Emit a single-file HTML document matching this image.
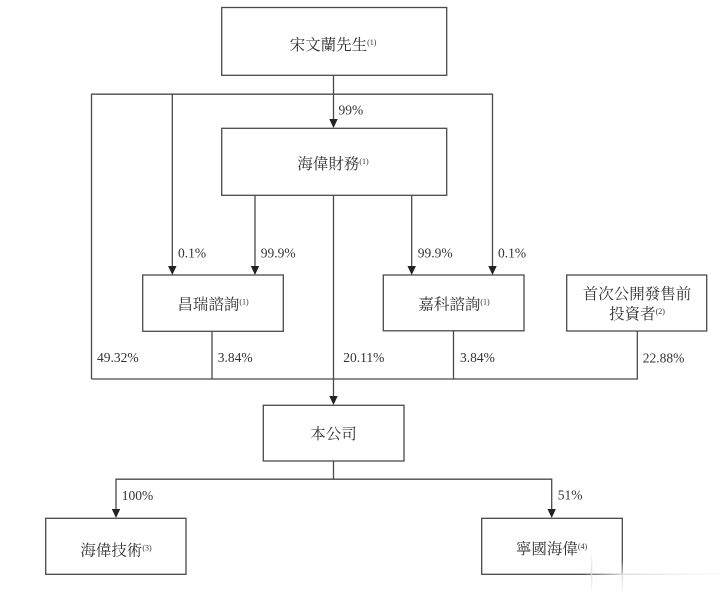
<!DOCTYPE html>
<html>
<head>
<meta charset="utf-8">
<style>
  html,body{margin:0;padding:0;background:#fff;}
  svg{display:block;}
  .cn{font-family:"Liberation Serif","Noto Serif CJK SC","Noto Serif CJK SC",serif;font-size:15.5px;fill:#333;}
  .pc{font-family:"Liberation Serif",serif;font-size:13.5px;fill:#333;}
  .sup{font-size:8px;}
</style>
</head>
<body>
<svg width="720" height="595" viewBox="0 0 720 595" xmlns="http://www.w3.org/2000/svg">
  <defs>
    <linearGradient id="fadeH" x1="0" x2="1" y1="0" y2="0">
      <stop offset="0" stop-color="#ddd" stop-opacity="0"/>
      <stop offset="0.3" stop-color="#ddd" stop-opacity="1"/>
      <stop offset="1" stop-color="#eee" stop-opacity="0.3"/>
    </linearGradient>
    <linearGradient id="fadeV" x1="0" x2="0" y1="0" y2="1">
      <stop offset="0" stop-color="#ddd" stop-opacity="0"/>
      <stop offset="0.5" stop-color="#ddd" stop-opacity="1"/>
      <stop offset="1" stop-color="#ddd" stop-opacity="0"/>
    </linearGradient>
  </defs>

  <g stroke="#4a4a4a" stroke-width="1.3" fill="none">
    <!-- boxes -->
    <rect x="221.7" y="7.5" width="225" height="67.8"/>
    <rect x="221.7" y="128.3" width="225" height="67"/>
    <rect x="142.7" y="275" width="140.6" height="56.3"/>
    <rect x="383.3" y="275" width="140.7" height="55.8"/>
    <rect x="566.7" y="275" width="140" height="56"/>
    <rect x="263.3" y="405.3" width="140.7" height="55.7"/>
    <rect x="45.7" y="518.3" width="140.3" height="56"/>
    <rect x="481.7" y="518.3" width="140.6" height="56"/>

    <!-- top connectors -->
    <line x1="333.5" y1="75.3" x2="333.5" y2="121"/>
    <polyline points="91.5,379 91.5,94.2 492.5,94.2 492.5,267"/>
    <line x1="172.3" y1="94.2" x2="172.3" y2="267"/>

    <!-- from 海偉財務 -->
    <line x1="255" y1="195.3" x2="255" y2="267"/>
    <line x1="411.7" y1="195.3" x2="411.7" y2="267"/>
    <line x1="333.5" y1="195.3" x2="333.5" y2="397"/>

    <!-- bottom collector -->
    <line x1="91.5" y1="379" x2="637.3" y2="379"/>
    <line x1="212" y1="331.3" x2="212" y2="379"/>
    <line x1="453.5" y1="330.8" x2="453.5" y2="379"/>
    <line x1="637.3" y1="331" x2="637.3" y2="379.6"/>

    <!-- from 本公司 -->
    <line x1="333.5" y1="461" x2="333.5" y2="479.2"/>
    <polyline points="116,510 116,479.2 551.7,479.2 551.7,510"/>
  </g>

  <!-- arrowheads -->
  <g fill="#222">
    <polygon points="329.3,119 337.7,119 333.5,128"/>
    <polygon points="168.1,266 176.5,266 172.3,275"/>
    <polygon points="250.8,266 259.2,266 255,275"/>
    <polygon points="407.5,266 415.9,266 411.7,275"/>
    <polygon points="488.3,266 496.7,266 492.5,275"/>
    <polygon points="329.3,396 337.7,396 333.5,405"/>
    <polygon points="111.8,509 120.2,509 116,518"/>
    <polygon points="547.5,509 555.9,509 551.7,518"/>
  </g>

  <!-- box labels -->
  <text class="cn" x="333" y="50" text-anchor="middle">宋文蘭先生<tspan class="sup" dy="-5">(1)</tspan></text>
  <text class="cn" x="333" y="169" text-anchor="middle">海偉財務<tspan class="sup" dy="-5">(1)</tspan></text>
  <text class="cn" x="213" y="309.5" text-anchor="middle">昌瑞諮詢<tspan class="sup" dy="-5">(1)</tspan></text>
  <text class="cn" x="454" y="309.5" text-anchor="middle">嘉科諮詢<tspan class="sup" dy="-5">(1)</tspan></text>
  <text class="cn" x="637" y="299" text-anchor="middle">首次公開發售前</text>
  <text class="cn" x="637" y="319" text-anchor="middle">投資者<tspan class="sup" dy="-5">(2)</tspan></text>
  <text class="cn" x="333.5" y="439" text-anchor="middle">本公司</text>
  <text class="cn" x="116" y="555.5" text-anchor="middle">海偉技術<tspan class="sup" dy="-5">(3)</tspan></text>
  <text class="cn" x="551.5" y="554" text-anchor="middle">寧國海偉<tspan class="sup" dy="-5">(4)</tspan></text>

  <!-- percentages -->
  <text class="pc" x="338.5" y="114.5">99%</text>
  <text class="pc" x="178" y="257.5">0.1%</text>
  <text class="pc" x="260.7" y="257.5">99.9%</text>
  <text class="pc" x="417.7" y="257.5">99.9%</text>
  <text class="pc" x="498" y="257.5">0.1%</text>
  <text class="pc" x="97" y="362">49.32%</text>
  <text class="pc" x="217.7" y="362">3.84%</text>
  <text class="pc" x="343.3" y="362">20.11%</text>
  <text class="pc" x="460" y="362">3.84%</text>
  <text class="pc" x="642.7" y="362.5">22.88%</text>
  <text class="pc" x="121.7" y="500">100%</text>
  <text class="pc" x="557.7" y="499.5">51%</text>

  <!-- faint watermark artifacts -->
  <rect x="582" y="573.5" width="138" height="1.5" fill="url(#fadeH)"/>
  <rect x="591" y="550" width="1.3" height="45" fill="url(#fadeV)"/>
  <rect x="621.7" y="560" width="1.3" height="35" fill="url(#fadeV)"/>
</svg>
</body>
</html>
